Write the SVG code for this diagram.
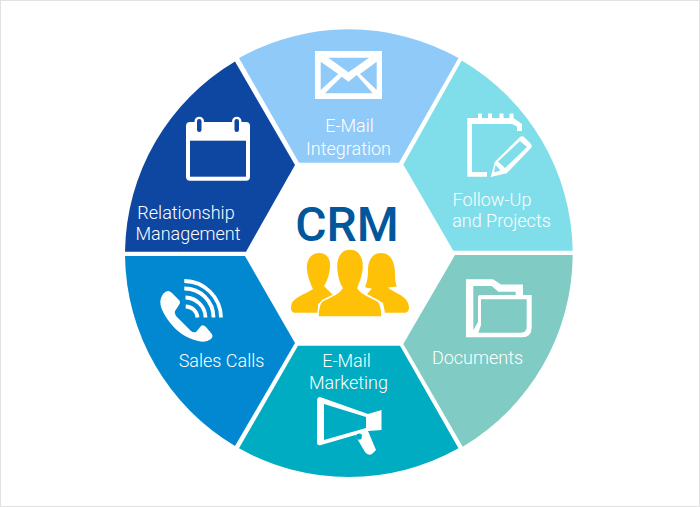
<svg xmlns="http://www.w3.org/2000/svg" width="700" height="507" viewBox="0 0 700 507">
<style>
text{font-family:Roboto,"Liberation Sans",sans-serif;font-weight:300;font-size:18px;fill:#fff;text-anchor:middle}
.w{fill:#fff}
.y{fill:#ffc107}
</style>
<rect x="0.5" y="0.5" width="699" height="506" fill="#fff" stroke="#e2e2e2"/>
<g id="connectors"/>
<g id="email-integration">
<path d="M239 58A224.500 224.500 0 0 1 458.500 58L399 162.700H299Z" fill="#90caf9"/>
<rect class="w" x="315" y="51" width="67" height="48"/>
<path fill="#90caf9" d="M328.300 57.700H369L348.500 72.300ZM320.700 61.700L338.300 74L320.700 90ZM376.700 61.700L360 74L376.700 90ZM325 93.300L341.700 76.700L348.500 81.700L356.700 75L372.700 93.300Z"/>
<text x="349.500" y="132">E-Mail</text><text x="348.500" y="155">Integration</text>
</g>
<g id="follow-up">
<path d="M461.700 60.500A224.500 224.500 0 0 1 572.700 250.700H453.300L403.300 164.500Z" fill="#80deea"/>
<path class="w" d="M467.300 118H478V113.500H482V118H488V113.500H492V118H499.500V113.500H503.500V118H509.500V113.500H513.500V118L522 124V131H517V126.500L512 124H472V172H487V176.700H467.300Z"/>
<path class="w" d="M490.700 177L495 161.700L520 137Q522 135.500 524 137L531 144Q532.500 146 531 148L506.700 173.300Z"/>
<path fill="#80deea" d="M498 161.500L520 141L527 147L505 168ZM495.500 165L500.500 170.500L494 172.500Z"/>
<text x="492" y="205.500">Follow-Up</text><text x="501.500" y="227">and Projects</text>
</g>
<g id="documents">
<path d="M455 255H572.700A224.500 224.500 0 0 1 462.700 446.700L403.300 344Z" fill="#80cbc4"/>
<path class="w" d="M466 279.300H493L501 284.500H523V295H531.700V327Q531.700 337.300 522 337.300H466Z"/>
<path fill="#80cbc4" d="M473.300 286H491.700L498.300 291.700H515.700V295H480Q478 295 478 297V322L473.300 330ZM481 299.300H526.700V327Q526.700 332.700 521 332.700H478.300L481 325Z"/>
<text x="477.500" y="364">Documents</text>
</g>
<g id="email-marketing">
<path d="M239 448.300L298 345.700H400L458.500 448.300A224.500 224.500 0 0 1 239 448.300Z" fill="#00acc1"/>
<path class="w" fill-rule="evenodd" d="M320 397Q317 397 317 401V442Q317 446 321 445L352 436L355 435L365 452Q368 456 372 454L376 450L368 431L381.500 430V410L368 414ZM324 404L366 417V428L324 440ZM355.500 435.500Q359 432 362 435L361.500 439Q358 441 356.500 438Z"/>
<text x="346.500" y="367">E-Mail</text><text x="348.500" y="388.500">Marketing</text>
</g>
<g id="sales-calls">
<path d="M125 256H245L295 343L235 446A224.500 224.500 0 0 1 125 256Z" fill="#0288d1"/>
<path class="w" d="M168 291Q170 291 172 293L179 300Q181 302 179 305L175 311Q174 313 176 316L191 331Q193 333 196 332L201 326Q203 324 206 327L211 333Q214 336 211 339Q206 343 198 341Q180 337 168 320Q158 306 161 298Q163 292 168 291Z"/>
<path fill="none" stroke="#fff" stroke-width="3.800" d="M184.300 281A37 37 0 0 1 221 317.500M184.300 288.500A29 29 0 0 1 213.500 317.500M185.500 297.500A20.500 20.500 0 0 1 205.500 317.500M185.700 306.500A12 12 0 0 1 197.500 317.500"/>
<text x="221.500" y="367">Sales Calls</text>
</g>
<g id="relationship">
<path d="M235 61.500L295 165L246 251.700H125A224.500 224.500 0 0 1 235 61.500Z" fill="#0d47a1"/>
<rect class="w" x="186" y="122" width="64" height="58.700" rx="4"/>
<rect x="190" y="140.700" width="56" height="36" fill="#0d47a1"/>
<rect x="194.500" y="116.700" width="9.500" height="17.600" rx="4.750" class="w"/>
<rect x="232" y="116.700" width="9.500" height="17.600" rx="4.750" class="w"/>
<rect x="197" y="119" width="4.500" height="13" rx="2.250" fill="#0d47a1"/>
<rect x="234.500" y="119" width="4.500" height="13" rx="2.250" fill="#0d47a1"/>
<text x="186" y="219">Relationship</text><text x="188" y="240">Management</text>
</g>
<g id="crm">
<text x="347" y="240.500" style="font-size:48px;font-weight:500;fill:#01579b">CRM</text>
<path class="y" d="M319 253C327 253 331 259 330 268C329 277 326 283 324 286L333 295L318 304V312.700H295C291 312.700 290.500 308 291.500 304C294 297 306 294 313 289C311 285 308 278 307 270C306 260 311 253 319 253Z"/>
<path class="y" d="M381 253C391 253 395 262 395 274C395 280 396 285 397 286.500L388 287.500C394 293 405 295 408 303C410 308 409 312.700 405 312.700H385L383 303L367 294L372 288.500C369 288 366 288 365 286.500C367 283 368 277 368 270C368 261 372 253 381 253Z"/>
<path class="y" stroke="#fff" stroke-width="1.500" d="M350 249C360 249 364 258 363.500 268C363 277 359 285 358 288C360 294 372 297 378 301C381 304 382 310 382 317H318C318 310 319 304 322 301C328 297 340 294 342 288C340 285 337 277 336.500 268C336 258 340 249 350 249Z"/>
</g>
</svg>
